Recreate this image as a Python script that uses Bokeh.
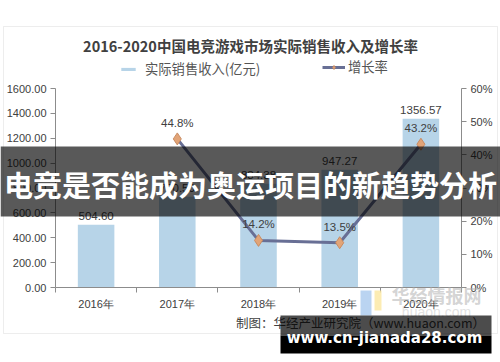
from bokeh.plotting import figure
from bokeh.models import (Range1d, LinearAxis, FixedTicker, NumeralTickFormatter,
                          ColumnDataSource, LabelSet, Label, BoxAnnotation, Legend, LegendItem)
from bokeh.core.properties import value
from bokeh.embed import file_html
from bokeh.resources import INLINE

# ---- data ----
years = ["2016年", "2017年", "2018年", "2019年", "2020年"]
revenue = [504.60, 730.50, 834.38, 947.27, 1356.57]
growth = [None, 0.448, 0.142, 0.135, 0.432]
left_ticks = [0, 200, 400, 600, 800, 1000, 1200, 1400, 1600]
right_ticks = [0, 0.1, 0.2, 0.3, 0.4, 0.5, 0.6]
title_text = "2016-2020中国电竞游戏市场实际销售收入及增长率"
legend_bar = "实际销售收入(亿元)"
legend_line = "增长率"
source_text = "制图：华经产业研究院（www.huaon.com）"
banner_text = "电竞是否能成为奥运项目的新趋势分析"
url_text = "www.cn-jianada28.com"

# ---- layout (pixels): the plotting area of the chart inside a full-canvas frame ----
W, H = 500, 362
PL, PR, PT, PB = 55, 461, 88, 287   # chart area in canvas pixels

n = len(years)
x_lo, x_hi = -0.5, n - 0.5
ppx = (PR - PL) / (x_hi - x_lo)
x_start = x_lo - PL / ppx
x_end = x_hi + (W - PR) / ppx

y_lo, y_hi = left_ticks[0], left_ticks[-1]
ppy = (PB - PT) / (y_hi - y_lo)
y_start = y_lo - (H - PB) / ppy
y_end = y_hi + PT / ppy

r_lo, r_hi = right_ticks[0], right_ticks[-1]
ppr = (PB - PT) / (r_hi - r_lo)
r_start = r_lo - (H - PB) / ppr
r_end = r_hi + PT / ppr


def sx(x):
    return x


def sy(y):
    return H - y


NUM_FONT = "Liberation Sans"
CJK_FONT = "Noto Sans CJK SC"
TXT = "#404040"
AXC = "#8c8c8c"

xs = list(range(n))
bar_src = ColumnDataSource(dict(x=xs, top=revenue, lab=[f"{v:.2f}" for v in revenue]))
gx = [x for x, g in zip(xs, growth) if g is not None]
gy = [g for g in growth if g is not None]
line_src = ColumnDataSource(dict(x=gx, y=gy, lab=[f"{g*100:.1f}%" for g in gy]))

p = figure(width=W, height=H, x_range=Range1d(x_start, x_end), y_range=Range1d(y_start, y_end),
           output_backend="svg", toolbar_location=None, title=None,
           min_border=0, outline_line_color=None,
           background_fill_color="white", border_fill_color="white")
p.xgrid.visible = False
p.ygrid.visible = False
p.extra_y_ranges = {"rate": Range1d(r_start, r_end)}

bars = p.vbar(x="x", top="top", width=0.45, source=bar_src, fill_color="#b7d4e8", line_color=None)
ln = p.line(x="x", y="y", source=line_src, y_range_name="rate", line_color="#686f95", line_width=3)
mk = p.scatter(x="x", y="y", source=line_src, y_range_name="rate", marker="diamond", size=12,
               fill_color="#e2a477", line_color="#c98c62", line_width=1)

# axes (fixed at the chart's edges, inside the full-canvas frame)
ax = p.yaxis[0]
ax.ticker = FixedTicker(ticks=left_ticks)
ax.formatter = NumeralTickFormatter(format="0.00")
ax.fixed_location = x_lo
ax.bounds = (y_lo, y_hi)
ra = LinearAxis(y_range_name="rate", ticker=FixedTicker(ticks=right_ticks),
                formatter=NumeralTickFormatter(format="0%"), fixed_location=x_hi,
                bounds=(r_lo, r_hi))
p.add_layout(ra, "right")
for a in (ax, ra):
    a.major_label_text_font = NUM_FONT
    a.major_label_text_font_size = "11px"
    a.major_label_text_color = TXT
    a.axis_line_color = AXC
    a.major_tick_line_color = AXC
    a.major_tick_out = 5
    a.major_tick_in = 0
    a.minor_tick_line_color = None
    a.major_label_standoff = 4

xa = p.xaxis[0]
xa.fixed_location = y_lo
xa.bounds = (x_lo, x_hi)
xa.ticker = FixedTicker(ticks=xs, minor_ticks=[x - 0.5 for x in xs] + [xs[-1] + 0.5])
xa.major_label_overrides = {x: y for x, y in zip(xs, years)}
xa.major_label_text_font = NUM_FONT
xa.major_label_text_font_size = "11px"
xa.major_label_text_color = TXT
xa.axis_line_color = AXC
xa.major_tick_line_color = None
xa.major_tick_out = 0
xa.minor_tick_line_color = AXC
xa.minor_tick_out = 5
xa.minor_tick_in = 0
xa.major_label_standoff = 5

# value labels
p.add_layout(LabelSet(x="x", y="top", text="lab", source=bar_src, y_offset=5,
                      text_align="center", text_baseline="bottom", text_font=value(NUM_FONT),
                      text_font_size="11.5px", text_color=TXT))
p.add_layout(LabelSet(x="x", y="y", text="lab", source=line_src, y_range_name="rate", y_offset=10,
                      text_align="center", text_baseline="bottom", text_font=value(NUM_FONT),
                      text_font_size="11.5px", text_color=TXT))


def box(x0, x1, y0, y1, fill=None, alpha=1.0, line=None):
    p.add_layout(BoxAnnotation(left=sx(x0), right=sx(x1), top=sy(y0), bottom=sy(y1),
                               left_units="screen", right_units="screen",
                               top_units="screen", bottom_units="screen",
                               fill_color=fill, fill_alpha=alpha, line_color=line, line_width=1))


def txt(x, y, t, font, size, color, bold=False, alpha=1.0):
    p.add_layout(Label(x=sx(x), y=sy(y), x_units="screen", y_units="screen", text=t,
                       text_align="center", text_baseline="middle", text_font=font,
                       text_font_size=size, text_color=color, text_alpha=alpha,
                       text_font_style="bold" if bold else "normal"))


# outer border
box(3, 497, 26, 333, fill=None, alpha=0, line="#c4c4c4")

# title
txt(250, 45, title_text, CJK_FONT, "14.5px", "#404040", bold=True)

# legends
lg1 = Legend(items=[LegendItem(label=legend_bar, renderers=[bars])], location=(sx(119), sy(78)),
             orientation="horizontal", glyph_width=18, glyph_height=4, label_height=4,
             label_standoff=8, padding=0, margin=0, border_line_color=None,
             background_fill_alpha=0, label_text_font=CJK_FONT, label_text_font_size="13.3px",
             label_text_color="#555555")
lg2 = Legend(items=[LegendItem(label=legend_line, renderers=[ln, mk])], location=(sx(322), sy(76)),
             orientation="horizontal", glyph_width=23, glyph_height=10, label_height=10,
             label_standoff=3, padding=0, margin=0, border_line_color=None,
             background_fill_alpha=0, label_text_font=CJK_FONT, label_text_font_size="13.3px",
             label_text_color="#555555")
p.add_layout(lg1)
p.add_layout(lg2)

# source note
txt(360, 322, source_text, CJK_FONT, "12.5px", "#404040")

# watermark
box(360, 371, 290, 315, fill="#a9c9ee", alpha=0.8)
box(374, 381, 290, 310, fill="#fbe7a0", alpha=0.8)
txt(436, 294, "华经情报网", CJK_FONT, "18px", "#b0b0b0", bold=True, alpha=0.55)
txt(436, 311, "huaon.com", NUM_FONT, "14px", "#c8c8c8", alpha=0.55)

# banner
box(0, 500, 146, 216, fill="black", alpha=0.65)
txt(250, 183, banner_text, CJK_FONT, "29px", "white", bold=True)

# url box
box(280, 491, 315, 335, fill="black", alpha=0.7)
box(280, 491, 335, 353, fill="black", alpha=1.0)
txt(384, 337, url_text, "DejaVu Sans", "15px", "white", bold=True)

open("out.html", "w").write(file_html(p, INLINE))
